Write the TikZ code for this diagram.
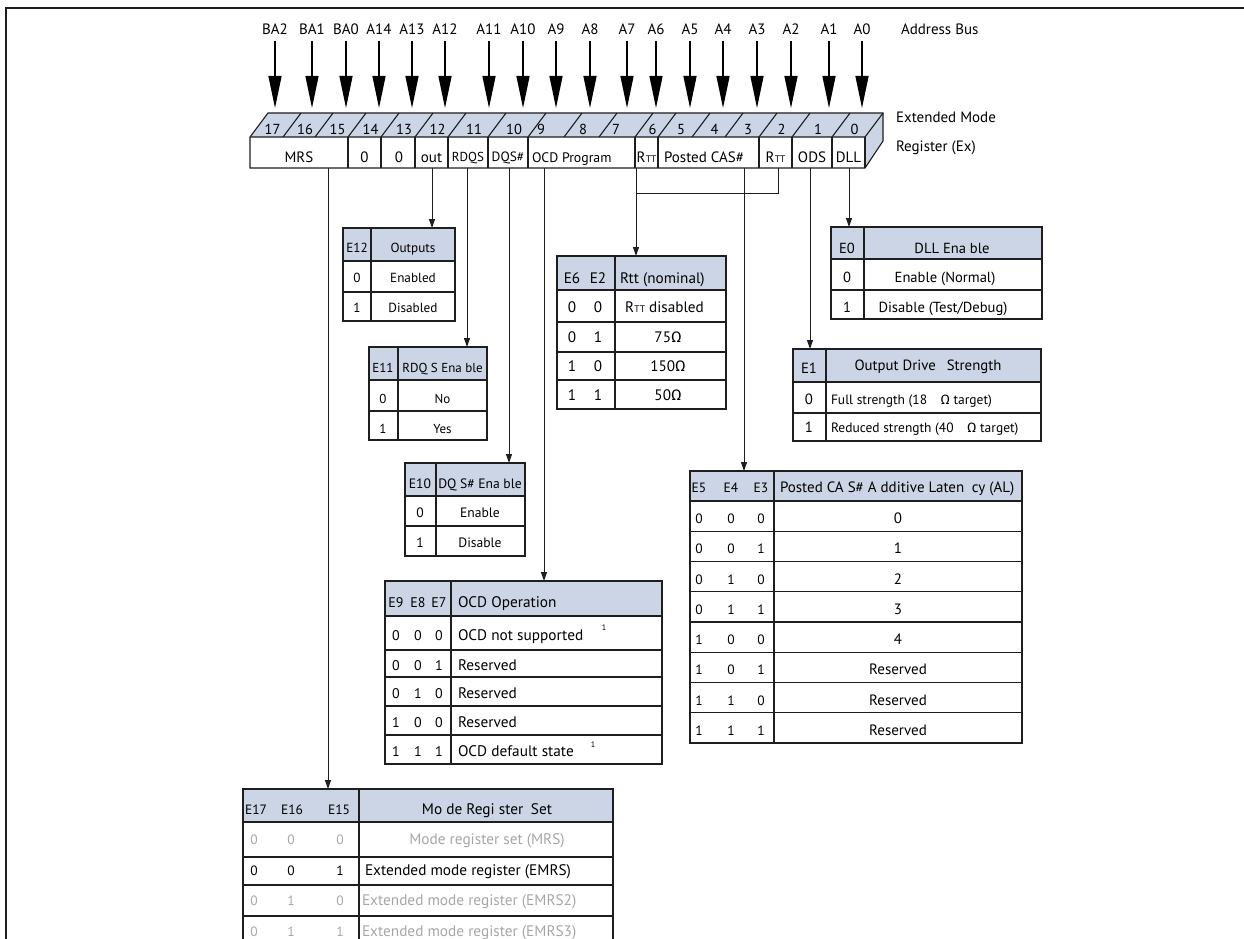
\documentclass[tikz,border=0pt]{standalone}
\usepackage{fontspec}
\setmainfont{PT Sans}
\newfontfamily\grk{Fira Sans}
\usetikzlibrary{arrows.meta}
\definecolor{hdr}{HTML}{CBD5E6}
\definecolor{ln}{HTML}{1E1E1E}
\definecolor{gtx}{HTML}{A6A6A6}
\newcommand{\fs}[1]{\fontsize{#1}{#1}\selectfont}
\newcommand{\Rtt}{R\kern0.3pt{\fs{9.5}TT}}
\newcommand{\Om}{{\grk Ω}}
\newcommand{\tbox}[6]{%
  \fill[hdr] (#2,#3) rectangle (#4,#6);
  \node[minimum width={#4-#2}, minimum height={#5-#3}, anchor=north west] (#1) at (#2,#3) {};
  \draw[tl] (#2,#6) -- (#4,#6);
  \draw[tl] (#1.north west) rectangle (#1.south east);
}
\begin{document}
\begin{tikzpicture}[x=1pt,y=-1pt,
  every node/.style={inner sep=0pt,outer sep=0pt},
  tl/.style={draw=ln, line width=1.1pt},
  tx/.style={anchor=base, yshift=-4.5pt},
  txl/.style={anchor=base west, yshift=-4.5pt},
  ft/.style={anchor=base, font=\fs{15}},
  tarr/.style={draw=ln, line width=1pt, -{Triangle[length=9pt,width=6pt]}},
  barr/.style={draw=black, line width=1.4pt, -{Triangle[length=32pt,width=13pt]}},
  addr/.style={anchor=base, font=\fs{15}}]
\useasboundingbox (0,0) rectangle (1244,939);
\begin{scope}
\clip (0,0) rectangle (1244,939);
% frame
\draw[ln, line width=2pt] (6,950) -- (6,8) -- (1250,8);
% address bus
\foreach \n/\l/\x in {17/BA2/275,16/BA1/312,15/BA0/346,14/A14/379,13/A13/412,12/A12/445,11/A11/489,10/A10/523,9/A9/556,8/A8/590,7/A7/627,6/A6/656,5/A5/690,4/A4/723,3/A3/757,2/A2/791,1/A1/829,0/A0/862}{
  \node[addr] (a\n) at (\x,35) {\l};
  \coordinate (b\n) at (\x,108);
  \draw[barr] ([yshift=-6pt]a\n.south) -- (b\n);
}
\node[addr, anchor=base west] (abus) at (901,35) {Address Bus};
% register
\fill[hdr] (250,137) -- (268,113) -- (883,113) -- (865,137) -- cycle;
\fill[hdr] (865,137) -- (883,113) -- (883,141) -- (865,168) -- cycle;
\draw[tl] (250,168) -- (250,137) -- (268,113) -- (883,113) -- (883,141) -- (865,168) -- cycle;
\draw[tl] (250,137) -- (865,137) -- (883,113);
\draw[tl] (865,137) -- (865,168);
\foreach \b in {283,315,348,381,415,448,488,528,564,599,635,658,692,725,759,792,832}
  \draw[tl] (\b,137) -- (\b+18,113);
\foreach \b in {348,381,415,448,488,528,635,658,759,792,832}
  \draw[tl] (\b,137) -- (\b,168);
\foreach \d/\x in {17/272.5,16/305,15/337.5,14/370.5,13/404,12/437.5,11/474,10/514,9/541,8/583,7/616,6/652.5,5/681,4/714.5,3/748,2/781.5,1/818,0/854.5}
  \node[anchor=base, font=\fs{14.5}] (d\d) at (\x,135) {\d};
\node[ft] (fMRS) at (299,162) {MRS};
\node[ft] (f14) at (364.5,162) {0};
\node[ft] (f13) at (399,162) {0};
\node[ft] (fOut) at (431.5,162) {out};
\node[ft, font=\fs{13}] (fRdqs) at (468,161) {RDQS};
\node[ft, font=\fs{13.5}] (fDqs) at (508,161) {DQS\#};
\node[ft, font=\fs{13.8}, anchor=base west] (fOcd) at (532,162) {OCD Program};
\node[ft] (fRtt6) at (646.5,162) {\Rtt};
\node[ft] (fCas) at (704,162) {Posted CAS\#};
\node[ft] (fRtt2) at (775.5,162) {\Rtt};
\node[ft] (fOds) at (812,162) {ODS};
\node[ft] (fDll) at (848.5,162) {DLL};
\node[anchor=base west, font=\fs{15}] (ext1) at (896,122) {Extended Mode};
\node[anchor=base west, font=\fs{15}] (ext2) at (896,151) {Register (Ex)};
% connector start points
\coordinate (cMRS) at (328,168);
\coordinate (cOut) at (432,168);
\coordinate (cRdqs) at (467,168);
\coordinate (cDqs) at (509,168);
\coordinate (cOcd) at (544,168);
\coordinate (cRtt6) at (636,168);
\coordinate (cRtt2) at (778,168);
\coordinate (jRtt) at (636,193);
\coordinate (cCas) at (744,168);
\coordinate (cOds) at (810,168);
\coordinate (cDll) at (849,168);
% ---- E12 table
\begin{scope}[font=\fs{13.2}]
\tbox{tE12}{343}{228}{455}{321}{261}
\draw[tl] (343,292) -- (455,292) (371,228) -- (371,321);
\node[tx] (e12h1) at (357,248) {E12};
\node[tx] (e12h2) at (413,248) {Outputs};
\node[tx] (e12a) at (357,278) {0}; \node[tx] (e12b) at (413,278) {Enabled};
\node[tx] (e12c) at (357,308) {1}; \node[tx] (e12d) at (413,308) {Disabled};
\end{scope}
% ---- E11 table
\begin{scope}[font=\fs{13}]
\tbox{tE11}{369}{347}{487}{440}{380}
\draw[tl] (369,411) -- (487,411) (398,347) -- (398,440);
\node[tx] (e11h1) at (383,368) {E11};
\node[tx] (e11h2) at (442.5,368) {RDQ S Ena ble};
\node[tx] (e11a) at (383,399) {0}; \node[tx] (e11b) at (442.5,399) {No};
\node[tx] (e11c) at (383,429) {1}; \node[tx] (e11d) at (442.5,429) {Yes};
\end{scope}
% ---- E10 table
\begin{scope}[font=\fs{13.6}]
\tbox{tE10}{405}{463}{525}{556}{496}
\draw[tl] (405,526) -- (525,526) (436,463) -- (436,556);
\node[tx] (e10h1) at (420,484) {E10};
\node[tx] (e10h2) at (480,484) {DQ S\# Ena ble};
\node[tx] (e10a) at (420,513) {0}; \node[tx] (e10b) at (480,513) {Enable};
\node[tx] (e10c) at (420,543) {1}; \node[tx] (e10d) at (480,543) {Disable};
\end{scope}
% ---- Rtt table
\begin{scope}[font=\fs{15.2}]
\tbox{tRtt}{557}{256}{726}{409}{290}
\draw[tl] (557,322) -- (726,322) (557,352) -- (726,352) (557,380) -- (726,380) (615,256) -- (615,409);
\node[tx] (rh1) at (572,279) {E6}; \node[tx] (rh2) at (598,279) {E2};
\node[txl] (rh3) at (620,279) {Rtt (nominal)};
\node[tx] (r1a) at (572,308) {0}; \node[tx] (r1b) at (598,308) {0}; \node[txl] (r1c) at (625,308) {\Rtt{} disabled};
\node[tx] (r2a) at (572,338) {0}; \node[tx] (r2b) at (598,338) {1}; \node[tx] (r2c) at (668,338) {75\Om};
\node[tx] (r3a) at (572,367) {1}; \node[tx] (r3b) at (598,367) {0}; \node[tx] (r3c) at (668,367) {150\Om};
\node[tx] (r4a) at (572,396) {1}; \node[tx] (r4b) at (598,396) {1}; \node[tx] (r4c) at (668,396) {50\Om};
\end{scope}
% ---- E0 table
\begin{scope}[font=\fs{14.6}]
\tbox{tE0}{831}{227}{1042}{319}{259}
\draw[tl] (831,290) -- (1042,290) (864,227) -- (864,319);
\node[tx] (e0h1) at (847,249) {E0};
\node[tx] (e0h2) at (952,249) {DLL Ena ble};
\node[tx] (e0a) at (847,278) {0}; \node[tx] (e0b) at (945,278) {Enable (Normal)};
\node[tx] (e0c) at (847,308) {1}; \node[tx] (e0d) at (943,308) {Disable (Test/Debug)};
\end{scope}
% ---- E1 table
\begin{scope}[font=\fs{14.8}]
\tbox{tE1}{793}{349}{1041}{441}{382}
\draw[tl] (793,413) -- (1041,413) (826,349) -- (826,441);
\node[tx] (e1h1) at (809,369) {E1};
\node[tx] (e1h2) at (928,366) {Output Drive\hspace{11pt}Strength};
\node[tx] (e1a) at (809,400) {0};
\node[txl, font=\fs{13.5}] (e1b) at (831,400) {Full strength (18\quad \Om{} target)};
\node[tx] (e1c) at (809,428) {1};
\node[txl, font=\fs{13.5}] (e1d) at (831,428) {Reduced strength (40\quad \Om{} target)};
\end{scope}
% ---- Posted CAS table
\begin{scope}[font=\fs{15}]
\tbox{tCas}{690}{471}{1022}{743}{501}
\foreach \i in {1,...,7} \draw[tl] (690,{501+30.25*\i}) -- (1022,{501+30.25*\i});
\draw[tl] (774,471) -- (774,743);
\begin{scope}[font=\fs{13.5}]
\node[tx] (ch1) at (699,488) {E5}; \node[tx] (ch2) at (731,488) {E4}; \node[tx] (ch3) at (761,488) {E3};
\end{scope}
\node[txl] (ch4) at (780,488) {Posted CA S\# A dditive Laten\enspace cy (AL)};
\foreach \a/\b/\c/\v [count=\i from 0] in {0/0/0/0,0/0/1/1,0/1/0/2,0/1/1/3,1/0/0/4,1/0/1/Reserved,1/1/0/Reserved,1/1/1/Reserved}{
  \pgfmathsetmacro\yy{501+30.25*\i+18}
  \node[tx, font=\fs{13.5}] (cr\i a) at (699,\yy) {\a};
  \node[tx, font=\fs{13.5}] (cr\i b) at (731,\yy) {\b};
  \node[tx, font=\fs{13.5}] (cr\i c) at (761,\yy) {\c};
  \node[tx] (cr\i d) at (898,\yy) {\v};
}
\end{scope}
% ---- OCD table
\begin{scope}[font=\fs{15.3}]
\tbox{tOcd}{385}{581}{662}{764}{616}
\draw[tl] (385,650) -- (662,650) (385,677) -- (662,677) (385,706) -- (662,706) (385,735) -- (662,735) (451,581) -- (451,764);
\begin{scope}[font=\fs{14}]
\node[tx] (oh1) at (396,603) {E9}; \node[tx] (oh2) at (418,603) {E8}; \node[tx] (oh3) at (439,603) {E7};
\end{scope}
\node[txl] (oh4) at (458,603) {OCD Operation};
\foreach \a/\b/\c/\v/\yy [count=\i] in {0/0/0/OCD not supported/636,0/0/1/Reserved/666,0/1/0/Reserved/694,1/0/0/Reserved/723,1/1/1/OCD default state/752}{
  \node[tx, font=\fs{14}] (or\i a) at (396,\yy) {\a};
  \node[tx, font=\fs{14}] (or\i b) at (418,\yy) {\b};
  \node[tx, font=\fs{14}] (or\i c) at (439,\yy) {\c};
  \node[txl] (or\i d) at (458,\yy) {\v};
}
\node[font=\fs{8}] (on1) at (604,628) {1};
\node[font=\fs{8}] (on2) at (593,745) {1};
\end{scope}
% ---- Mode register set table
\begin{scope}[font=\fs{15.3}]
\tbox{tMode}{243}{789}{613}{960}{822}
\draw[tl] (243,857) -- (613,857) (243,885) -- (613,885) (243,916) -- (613,916) (243,947) -- (613,947) (359,789) -- (359,960);
\begin{scope}[font=\fs{13.5}]
\node[tx] (mh1) at (256,810) {E17}; \node[tx] (mh2) at (292,810) {E16}; \node[tx] (mh3) at (339,810) {E15};
\end{scope}
\node[tx] (mh4) at (487,810) {Mo de Regi ster\enspace Set};
\begin{scope}[text=gtx, font=\fs{13.5}]
\node[tx] (m1a) at (254,840) {0}; \node[tx] (m1b) at (291,840) {0}; \node[tx] (m1c) at (340,840) {0};
\end{scope}
\node[tx, text=gtx] (m1d) at (487,840) {Mode register set (MRS)};
\begin{scope}[font=\fs{13.5}]
\node[tx] (m2a) at (254,871) {0}; \node[tx] (m2b) at (291,871) {0}; \node[tx] (m2c) at (340,871) {1};
\end{scope}
\node[txl] (m2d) at (365,871) {Extended mode register (EMRS)};
\begin{scope}[text=gtx, font=\fs{13.5}]
\node[tx] (m3a) at (254,901) {0}; \node[tx] (m3b) at (291,901) {1}; \node[tx] (m3c) at (340,901) {0};
\node[tx] (m4a) at (254,932) {0}; \node[tx] (m4b) at (291,932) {1}; \node[tx] (m4c) at (340,932) {1};
\end{scope}
\node[txl, text=gtx] (m3d) at (362,901) {Extended mode register (EMRS2)};
\node[txl, text=gtx] (m4d) at (362,932) {Extended mode register (EMRS3)};
\end{scope}
% ---- connectors
\draw[tarr] (cMRS) -- (tMode.north -| cMRS);
\draw[tarr] (cOut) -- (tE12.north -| cOut);
\draw[tarr] (cRdqs) -- (tE11.north -| cRdqs);
\draw[tarr] (cDqs) -- (tE10.north -| cDqs);
\draw[tarr] (cOcd) -- (tOcd.north -| cOcd);
\draw[tarr] (cRtt6) -- (tRtt.north -| cRtt6);
\draw[draw=ln, line width=1pt] (cRtt2) |- (jRtt);
\draw[tarr] (cCas) -- (tCas.north -| cCas);
\draw[tarr] (cOds) -- (tE1.north -| cOds);
\draw[tarr] (cDll) -- (tE0.north -| cDll);
\end{scope}
\end{tikzpicture}
\end{document}
